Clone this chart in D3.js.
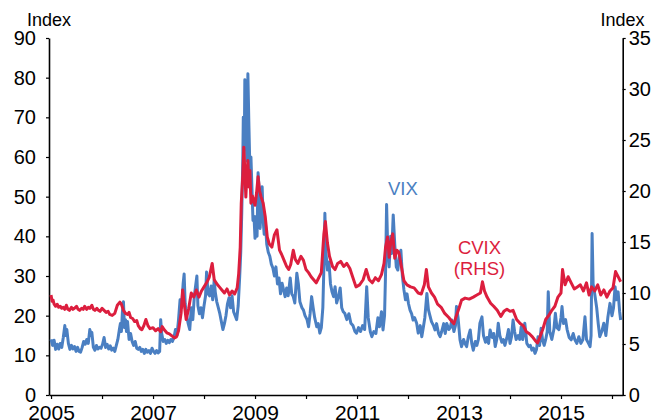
<!DOCTYPE html>
<html>
<head>
<meta charset="utf-8">
<script src="https://cdn.jsdelivr.net/npm/d3@7"></script>
<style>
  html, body { margin: 0; padding: 0; background: #fff; }
  svg { display: block; }
</style>
</head>
<body>
<div id="chart"></div>
<script>
// VIX (left axis), [decimal year, index]
const vixSeries = [
  [2005.00,14.0],[2005.03,12.5],[2005.06,13.8],[2005.09,11.5],[2005.12,12.8],[2005.15,11.6],[2005.18,13.0],[2005.21,12.0],
  [2005.24,14.5],[2005.27,17.5],[2005.29,15.0],[2005.31,16.5],[2005.34,13.0],[2005.37,11.5],[2005.40,12.5],[2005.43,11.6],
  [2005.46,12.2],[2005.49,11.0],[2005.52,12.0],[2005.55,11.0],[2005.58,10.8],[2005.61,12.0],[2005.64,13.5],[2005.67,12.8],
  [2005.70,14.0],[2005.73,13.0],[2005.76,16.5],[2005.78,15.0],[2005.80,15.8],[2005.83,12.0],[2005.86,11.3],[2005.89,12.5],
  [2005.92,11.6],[2005.95,12.0],[2005.98,11.8],[2006.01,12.8],[2006.04,14.5],[2006.07,12.0],[2006.10,12.8],[2006.13,11.6],
  [2006.16,12.4],[2006.19,11.3],[2006.22,11.8],[2006.25,11.0],[2006.28,12.5],[2006.31,14.0],[2006.34,16.5],[2006.36,18.0],
  [2006.38,16.0],[2006.40,21.0],[2006.42,23.5],[2006.44,17.0],[2006.46,19.0],[2006.48,16.0],[2006.50,18.5],[2006.53,14.0],
  [2006.56,15.5],[2006.59,13.5],[2006.62,12.5],[2006.65,13.5],[2006.68,11.8],[2006.71,11.5],[2006.74,12.0],[2006.77,11.0],
  [2006.80,11.5],[2006.83,10.5],[2006.86,11.5],[2006.89,10.8],[2006.92,11.2],[2006.95,10.5],[2006.98,11.8],[2007.01,11.0],
  [2007.04,10.5],[2007.07,11.2],[2007.10,10.6],[2007.13,11.0],[2007.15,19.0],[2007.17,15.5],[2007.20,13.5],[2007.23,14.0],
  [2007.26,13.0],[2007.29,13.8],[2007.32,13.2],[2007.35,14.0],[2007.38,13.5],[2007.41,14.5],[2007.44,16.5],[2007.47,15.0],
  [2007.50,19.0],[2007.53,24.0],[2007.56,22.0],[2007.59,28.0],[2007.61,30.5],[2007.63,23.0],[2007.66,20.0],[2007.69,18.0],
  [2007.72,16.5],[2007.75,22.0],[2007.78,19.0],[2007.81,25.0],[2007.86,30.0],[2007.88,22.5],[2007.91,20.5],[2007.94,22.0],
  [2007.97,19.5],[2008.00,22.5],[2008.03,25.0],[2008.05,31.0],[2008.08,25.5],[2008.11,25.0],[2008.14,27.5],[2008.17,24.0],
  [2008.20,29.0],[2008.22,26.0],[2008.25,23.5],[2008.28,22.0],[2008.31,20.5],[2008.34,18.5],[2008.37,16.5],[2008.40,18.0],
  [2008.43,20.0],[2008.46,23.0],[2008.49,24.5],[2008.52,22.0],[2008.55,25.0],[2008.58,21.0],[2008.61,20.0],[2008.64,19.0],
  [2008.67,22.5],[2008.70,30.0],[2008.72,36.0],[2008.74,46.0],[2008.76,59.0],[2008.77,70.0],[2008.79,62.0],[2008.80,79.5],
  [2008.82,67.5],[2008.84,59.0],[2008.86,81.0],[2008.88,68.0],[2008.90,56.5],[2008.92,60.0],[2008.94,52.0],[2008.96,44.0],
  [2008.98,45.0],[2009.00,39.5],[2009.02,45.0],[2009.04,40.0],[2009.06,56.0],[2009.08,52.0],[2009.10,42.0],[2009.12,48.0],
  [2009.14,52.5],[2009.16,44.0],[2009.18,40.5],[2009.20,44.0],[2009.23,38.0],[2009.26,36.0],[2009.29,35.0],[2009.32,33.0],
  [2009.35,32.0],[2009.38,30.0],[2009.41,32.3],[2009.44,28.0],[2009.47,29.5],[2009.50,25.5],[2009.53,28.2],[2009.56,26.5],
  [2009.59,24.8],[2009.62,27.0],[2009.65,25.0],[2009.69,29.5],[2009.72,25.5],[2009.75,24.8],[2009.78,23.2],[2009.82,30.7],
  [2009.85,28.0],[2009.88,23.5],[2009.92,22.0],[2009.95,21.4],[2009.98,20.0],[2010.02,19.0],[2010.05,17.2],[2010.08,20.5],
  [2010.11,24.8],[2010.14,22.0],[2010.17,19.5],[2010.21,17.2],[2010.24,18.0],[2010.27,15.6],[2010.30,17.0],[2010.33,22.0],
  [2010.35,32.0],[2010.37,45.8],[2010.39,36.0],[2010.42,31.5],[2010.45,33.5],[2010.48,28.0],[2010.51,26.0],[2010.54,24.8],
  [2010.57,27.3],[2010.60,23.2],[2010.64,25.0],[2010.67,27.0],[2010.70,22.0],[2010.73,21.0],[2010.76,20.6],[2010.80,19.0],
  [2010.84,20.5],[2010.88,18.1],[2010.92,17.5],[2010.96,16.0],[2010.99,15.6],[2011.03,17.0],[2011.07,16.0],[2011.11,17.5],
  [2011.15,16.5],[2011.19,27.3],[2011.22,19.5],[2011.26,16.0],[2011.29,14.7],[2011.33,16.0],[2011.37,15.5],[2011.41,19.5],
  [2011.44,17.2],[2011.48,21.0],[2011.51,16.4],[2011.54,20.0],[2011.56,31.0],[2011.58,48.0],[2011.60,38.0],[2011.63,32.3],
  [2011.66,40.0],[2011.68,35.7],[2011.71,45.4],[2011.74,38.0],[2011.77,32.3],[2011.80,31.5],[2011.83,35.0],[2011.86,36.5],
  [2011.89,30.0],[2011.92,26.5],[2011.95,24.0],[2011.98,25.5],[2012.01,23.0],[2012.04,21.4],[2012.07,20.5],[2012.10,18.9],
  [2012.13,19.5],[2012.17,18.1],[2012.20,15.6],[2012.24,17.5],[2012.27,14.7],[2012.30,17.0],[2012.33,19.5],[2012.37,25.6],
  [2012.40,21.5],[2012.43,20.0],[2012.46,18.5],[2012.50,17.5],[2012.53,16.4],[2012.56,18.0],[2012.60,15.5],[2012.63,14.7],
  [2012.66,16.0],[2012.70,18.0],[2012.73,15.5],[2012.76,18.0],[2012.80,16.5],[2012.83,17.0],[2012.86,18.9],[2012.90,16.0],
  [2012.93,17.5],[2012.95,22.3],[2012.98,19.7],[2013.02,13.9],[2013.05,12.2],[2013.09,14.0],[2013.12,12.9],[2013.15,12.2],
  [2013.18,14.5],[2013.22,16.4],[2013.25,13.0],[2013.28,11.3],[2013.32,13.5],[2013.35,12.5],[2013.38,14.0],[2013.41,18.1],
  [2013.45,19.7],[2013.48,15.0],[2013.52,13.3],[2013.55,14.5],[2013.58,13.0],[2013.61,16.4],[2013.65,14.5],[2013.68,15.5],
  [2013.71,12.2],[2013.74,14.0],[2013.77,18.1],[2013.80,15.0],[2013.84,13.3],[2013.87,14.0],[2013.90,12.5],[2013.94,14.5],
  [2013.97,16.5],[2014.00,13.0],[2014.03,14.7],[2014.06,18.9],[2014.09,16.0],[2014.12,14.0],[2014.16,15.0],[2014.19,14.0],
  [2014.22,17.2],[2014.25,14.0],[2014.29,18.1],[2014.33,13.0],[2014.37,12.2],[2014.40,12.5],[2014.43,11.3],[2014.46,11.8],
  [2014.49,10.5],[2014.52,11.5],[2014.55,14.7],[2014.58,12.5],[2014.61,16.8],[2014.64,13.8],[2014.67,12.5],[2014.70,14.0],
  [2014.73,16.0],[2014.75,26.0],[2014.78,16.0],[2014.82,14.0],[2014.86,16.5],[2014.89,20.6],[2014.92,17.0],[2014.96,16.5],
  [2015.00,19.5],[2015.02,22.3],[2015.05,18.0],[2015.09,19.0],[2015.12,16.5],[2015.16,14.5],[2015.20,13.9],[2015.24,15.5],
  [2015.27,14.0],[2015.31,13.0],[2015.35,14.7],[2015.39,13.0],[2015.43,14.0],[2015.47,19.7],[2015.50,14.0],[2015.54,13.0],
  [2015.57,12.2],[2015.59,15.0],[2015.61,40.7],[2015.63,28.0],[2015.66,25.6],[2015.70,22.0],[2015.73,18.0],[2015.76,14.7],
  [2015.80,16.0],[2015.84,18.1],[2015.88,15.0],[2015.92,19.7],[2015.96,23.1],[2016.00,20.0],[2016.03,22.0],[2016.06,27.3],
  [2016.09,24.0],[2016.12,26.0],[2016.15,21.0],[2016.17,18.9]
];

// CVIX (right axis), [decimal year, index]
const cvixSeries = [
  [2005.00,9.8],[2005.02,9.2],[2005.04,9.3],[2005.06,8.9],[2005.09,8.7],[2005.12,8.9],[2005.15,8.6],[2005.18,8.7],
  [2005.21,8.5],[2005.24,8.6],[2005.27,8.4],[2005.30,8.8],[2005.33,8.4],[2005.36,8.3],[2005.40,8.6],[2005.43,8.4],
  [2005.46,8.5],[2005.50,8.7],[2005.53,8.4],[2005.56,8.3],[2005.60,8.5],[2005.63,8.4],[2005.66,8.7],[2005.70,8.4],
  [2005.73,8.6],[2005.76,8.5],[2005.80,8.8],[2005.83,8.4],[2005.86,8.3],[2005.90,8.5],[2005.93,8.3],[2005.96,8.2],
  [2006.00,8.5],[2006.04,8.3],[2006.08,8.1],[2006.12,8.2],[2006.15,7.9],[2006.20,7.8],[2006.25,8.0],[2006.30,8.8],
  [2006.35,9.1],[2006.38,8.9],[2006.42,8.3],[2006.46,8.0],[2006.50,7.9],[2006.53,8.1],[2006.56,7.6],[2006.60,7.5],
  [2006.64,7.2],[2006.68,7.3],[2006.71,6.8],[2006.75,6.5],[2006.78,6.4],[2006.82,6.8],[2006.86,7.4],[2006.90,6.8],
  [2006.94,6.5],[2007.00,6.6],[2007.05,6.3],[2007.10,6.5],[2007.15,6.2],[2007.18,6.7],[2007.22,6.4],[2007.27,6.1],
  [2007.32,6.0],[2007.37,5.8],[2007.42,5.6],[2007.46,5.7],[2007.50,6.3],[2007.55,8.0],[2007.58,10.3],[2007.61,9.0],
  [2007.65,7.4],[2007.70,8.5],[2007.75,10.0],[2007.80,9.6],[2007.85,10.3],[2007.90,9.6],[2007.95,10.2],[2008.00,10.6],
  [2008.05,11.0],[2008.10,11.5],[2008.16,12.9],[2008.20,11.3],[2008.25,10.9],[2008.30,10.6],[2008.35,10.3],[2008.40,10.0],
  [2008.45,10.4],[2008.50,9.8],[2008.55,10.2],[2008.60,9.9],[2008.65,10.5],[2008.68,11.9],[2008.71,14.5],[2008.73,18.8],
  [2008.76,21.5],[2008.78,24.3],[2008.80,22.0],[2008.82,19.4],[2008.84,21.5],[2008.86,23.0],[2008.88,20.4],[2008.90,22.0],
  [2008.92,18.8],[2008.95,19.5],[2009.00,18.6],[2009.03,19.8],[2009.06,21.4],[2009.09,20.0],[2009.12,19.4],[2009.16,18.8],
  [2009.20,17.5],[2009.24,15.5],[2009.28,14.8],[2009.33,14.5],[2009.38,15.7],[2009.43,16.2],[2009.48,14.2],[2009.52,13.8],
  [2009.57,13.2],[2009.62,12.6],[2009.66,12.3],[2009.70,12.8],[2009.75,14.2],[2009.79,13.3],[2009.84,12.9],[2009.90,13.6],
  [2009.95,13.2],[2010.00,12.3],[2010.05,12.0],[2010.10,11.6],[2010.15,11.3],[2010.20,11.0],[2010.24,11.4],[2010.30,12.0],
  [2010.35,15.8],[2010.38,17.0],[2010.42,14.9],[2010.46,13.6],[2010.52,12.6],[2010.57,12.3],[2010.62,12.9],[2010.68,13.1],
  [2010.74,12.6],[2010.80,12.9],[2010.86,12.4],[2010.92,11.5],[2010.98,10.6],[2011.05,10.8],[2011.12,11.3],[2011.18,12.3],
  [2011.24,11.3],[2011.30,11.0],[2011.36,11.5],[2011.42,11.2],[2011.48,11.8],[2011.53,12.9],[2011.56,14.5],[2011.60,15.5],
  [2011.63,13.5],[2011.66,14.9],[2011.70,15.8],[2011.74,13.4],[2011.78,14.2],[2011.82,14.0],[2011.87,12.6],[2011.92,11.2],
  [2011.98,10.8],[2012.05,10.6],[2012.12,10.5],[2012.20,10.0],[2012.26,9.9],[2012.32,10.8],[2012.36,12.3],[2012.40,10.6],
  [2012.46,10.0],[2012.52,9.6],[2012.58,8.9],[2012.65,8.6],[2012.72,8.0],[2012.80,7.6],[2012.86,7.2],[2012.90,7.0],
  [2012.95,7.8],[2013.00,8.5],[2013.05,9.3],[2013.12,9.5],[2013.20,9.4],[2013.28,9.6],[2013.35,9.8],[2013.42,10.0],
  [2013.46,11.1],[2013.50,10.2],[2013.55,9.6],[2013.62,9.0],[2013.68,8.7],[2013.75,8.3],[2013.82,7.7],[2013.88,8.2],
  [2013.94,8.4],[2014.00,8.2],[2014.06,8.3],[2014.13,7.4],[2014.20,7.0],[2014.26,6.8],[2014.32,6.2],[2014.38,6.0],
  [2014.44,5.7],[2014.50,5.3],[2014.54,5.1],[2014.58,5.6],[2014.64,6.4],[2014.70,7.4],[2014.76,7.8],[2014.82,8.3],
  [2014.88,8.7],[2014.94,9.6],[2015.00,10.0],[2015.03,12.3],[2015.08,10.8],[2015.14,11.6],[2015.20,11.0],[2015.26,10.4],
  [2015.32,10.6],[2015.38,10.8],[2015.44,10.2],[2015.50,11.0],[2015.55,9.8],[2015.60,10.6],[2015.66,10.2],[2015.72,10.8],
  [2015.78,9.8],[2015.84,10.3],[2015.90,9.6],[2015.96,10.2],[2016.02,10.5],[2016.07,12.1],[2016.12,11.6],[2016.17,11.1]
];

const leftTicks = [0, 10, 20, 30, 40, 50, 60, 70, 80, 90];
const rightTicks = [0, 5, 10, 15, 20, 25, 30, 35];
const yearTicks = [2005, 2006, 2007, 2008, 2009, 2010, 2011, 2012, 2013, 2014, 2015, 2016];
const yearLabels = [2005, 2007, 2009, 2011, 2013, 2015];

const W = 657, H = 420;
const BLUE = "#4a7fc2", RED = "#dc1e3e";
const FONT = "'Liberation Sans', Arial, sans-serif";

const x = d3.scaleLinear().domain([2004.96, 2016.21]).range([49, 622.7]);
const yL = d3.scaleLinear().domain([0, 90]).range([395, 38]);
const yR = d3.scaleLinear().domain([0, 35]).range([395, 38]);

const svg = d3.select("#chart").append("svg").attr("width", W).attr("height", H);

function styleAxis(g) {
  g.select(".domain").attr("stroke", "#000").attr("stroke-width", 1.6);
  g.selectAll(".tick line").attr("stroke", "#000").attr("stroke-width", 1.2);
  g.selectAll("text").attr("fill", "#000").style("font-family", FONT);
}

// Axes
const gx = svg.append("g").attr("transform", "translate(0,395)")
  .call(d3.axisBottom(x).tickValues(yearTicks).tickSize(4).tickSizeOuter(0).tickPadding(6)
    .tickFormat((d) => (yearLabels.includes(d) ? String(d) : "")));
styleAxis(gx);
gx.selectAll("text").style("font-size", "21px").attr("dy", "0.71em");

const gl = svg.append("g").attr("transform", "translate(49,0)")
  .call(d3.axisLeft(yL).tickValues(leftTicks).tickSize(3).tickSizeOuter(0).tickPadding(10));
styleAxis(gl);
gl.selectAll("text").style("font-size", "20px");

const gr = svg.append("g").attr("transform", "translate(622.7,0)")
  .call(d3.axisRight(yR).tickValues(rightTicks).tickSize(3).tickSizeOuter(0).tickPadding(3));
styleAxis(gr);
gr.selectAll("text").style("font-size", "20px");

// Axis titles
svg.append("text").attr("x", 49).attr("y", 25.5).attr("text-anchor", "middle")
  .style("font-family", FONT).style("font-size", "18px").text("Index");
svg.append("text").attr("x", 622.5).attr("y", 25.5).attr("text-anchor", "middle")
  .style("font-family", FONT).style("font-size", "18px").text("Index");

// Lines (CVIX drawn on top)
const lineL = d3.line().x((d) => x(d[0])).y((d) => yL(d[1]));
const lineR = d3.line().x((d) => x(d[0])).y((d) => yR(d[1]));

svg.append("path").datum(vixSeries).attr("d", lineL)
  .attr("fill", "none").attr("stroke", BLUE).attr("stroke-width", 3).attr("stroke-linejoin", "round");
svg.append("path").datum(cvixSeries).attr("d", lineR)
  .attr("fill", "none").attr("stroke", RED).attr("stroke-width", 3).attr("stroke-linejoin", "round");

// Series labels
svg.append("text").attr("x", 388).attr("y", 195).style("font-family", FONT)
  .style("font-size", "18.5px").attr("fill", BLUE).text("VIX");
svg.append("text").attr("x", 479.5).attr("y", 254).attr("text-anchor", "middle").style("font-family", FONT)
  .style("font-size", "18.5px").attr("fill", RED).text("CVIX");
svg.append("text").attr("x", 479.5).attr("y", 275).attr("text-anchor", "middle").style("font-family", FONT)
  .style("font-size", "18.5px").attr("fill", RED).text("(RHS)");
</script>
</body>
</html>
